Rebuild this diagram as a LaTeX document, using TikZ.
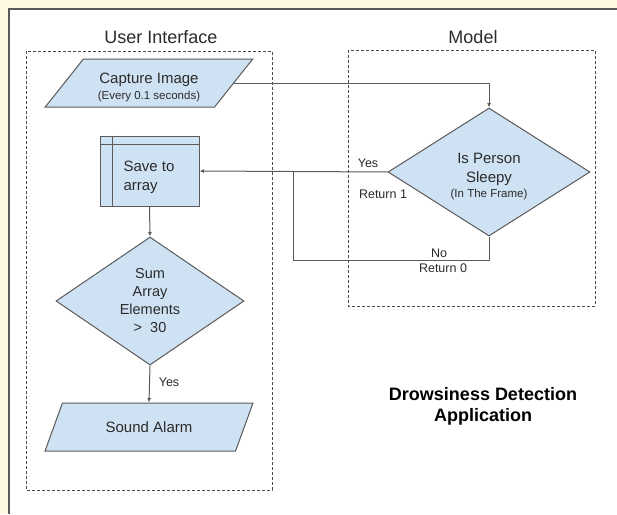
\documentclass[tikz,border=0pt]{standalone}
\usepackage{fontspec}
\setmainfont{Liberation Sans}
\usetikzlibrary{shapes.geometric,arrows.meta}
\definecolor{cream}{HTML}{FFF9E3}
\definecolor{boxfill}{HTML}{CFE2F3}
\definecolor{edge}{HTML}{5A5A5A}
\definecolor{ink}{HTML}{2B2B2B}
\tikzset{
  shapeline/.style={draw=edge, line width=1pt, fill=boxfill, text=ink},
  para/.style={shapeline, trapezium, trapezium left angle=51.6, trapezium right angle=128.4,
    trapezium stretches=true, minimum width=208pt, minimum height=48pt, inner sep=0pt, align=center},
  decision/.style={shapeline, diamond, inner sep=0pt, align=center},
  conn/.style={draw=edge, line width=1pt},
  arr/.style={conn, -{Latex[length=4.5pt,width=4pt]}},
  lane/.style={draw=ink!85, line width=1pt, dash pattern=on 3pt off 2pt},
  lbl/.style={text=ink, font=\fontsize{12.5}{14}\selectfont, inner sep=0pt},
  title/.style={text=ink, font=\fontsize{18}{21}\selectfont, inner sep=0pt},
}
\begin{document}
\begin{tikzpicture}[x=1pt, y=-1pt]
\useasboundingbox (0,0) rectangle (617,514);
\fill[cream] (0,0) rectangle (617,514);
\fill[white] (9,9) rectangle (617,514);
\draw[edge, line width=1.3pt] (9,514) -- (9,9) -- (617,9);

% swimlanes
\draw[lane] (26,51) rectangle (272,490);
\draw[lane] (348,50) rectangle (595,306);
\node[title] (uititle) at (161,37) {User Interface};
\node[title] (mtitle) at (473,37) {Model};

% nodes
\node[para, font=\fontsize{15}{19}\selectfont] (cap) at (149,83) {\rule{0pt}{19.5pt}Capture Image\\[-3.3pt]{\fontsize{11.5}{13}\selectfont (Every 0.1 seconds)}};
\node[shapeline, rectangle, minimum width=99pt, minimum height=70pt, inner sep=0pt] (save) at (149.5,171) {};
\draw[conn] ([xshift=13pt]save.north west) -- ([xshift=13pt]save.south west);
\draw[conn] ([yshift=-9pt]save.north west) -- ([yshift=-9pt]save.north east);
\node[text=ink, font=\fontsize{15}{19}\selectfont, align=left, inner sep=0pt] (savetext) at (149,177) {Save to\\array};

\node[decision, minimum width=188pt, minimum height=128pt, aspect=1.47, font=\fontsize{14.5}{18}\selectfont] (sum) at (150,301) {Sum\\Array\\Elements\\>\ \ 30};
\node[para, font=\fontsize{15}{19}\selectfont] (alarm) at (149,427) {Sound Alarm};

\node[decision, minimum width=202pt, minimum height=128pt, aspect=1.58, font=\fontsize{15}{19}\selectfont] (sleepy) at (489,172)
  {\rule{0pt}{19.5pt}Is Person\\Sleepy\\[-3.3pt]{\fontsize{11.5}{13}\selectfont (In The Frame)}};

% connectors
\coordinate (capturn) at (sleepy.north |- cap.east);
\draw[arr] (cap.east) -- (capturn) -- (sleepy.north);
\draw[arr] (sleepy.west) -- (save.east);
\coordinate (nocorner) at (489,260);
\coordinate (nojoin) at (293,260);
\coordinate (nomerge) at (293,172);
\draw[conn] (sleepy.south) -- (nocorner) -- (nojoin) -- (nomerge);
\draw[arr] (save.south) -- (sum.north);
\draw[arr] (sum.south) -- (alarm.north);

% labels
\node[lbl] (yes1) at (368,163) {Yes};
\node[lbl] (ret1) at (383,194) {Return 1};
\node[lbl] (no0) at (439,253) {No};
\node[lbl] (ret0) at (443,268) {Return 0};
\node[lbl] (yes2) at (169,382) {Yes};

\node[text=black, font=\bfseries\fontsize{18}{21}\selectfont, align=center, inner sep=0pt] (apptitle) at (483,406.5) {Drowsiness Detection\\Application};
\end{tikzpicture}
\end{document}
